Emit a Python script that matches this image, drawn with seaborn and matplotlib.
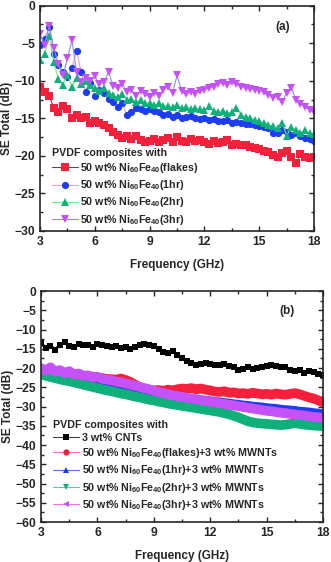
import numpy as np
import pandas as pd
import matplotlib
matplotlib.use('Agg')
import matplotlib.pyplot as plt
from matplotlib.ticker import MultipleLocator
import seaborn as sns

# frequency sweep (GHz)
freq = [3.0, 3.25, 3.5, 3.75, 4.0, 4.25, 4.5, 4.75, 5.0, 5.25, 5.5, 5.75,
        6.0, 6.25, 6.5, 6.75, 7.0, 7.25, 7.5, 7.75, 8.0, 8.25, 8.5, 8.75,
        9.0, 9.25, 9.5, 9.75, 10.0, 10.25, 10.5, 10.75, 11.0, 11.25, 11.5, 11.75,
        12.0, 12.25, 12.5, 12.75, 13.0, 13.25, 13.5, 13.75, 14.0, 14.25, 14.5, 14.75,
        15.0, 15.25, 15.5, 15.75, 16.0, 16.25, 16.5, 16.75, 17.0, 17.25, 17.5, 17.75, 18.0]

# (a) 50 wt% NiFe only
a_flakes = [-10.8, -11.5, -12.0, -13.6, -14.2, -13.4, -13.8, -14.9, -14.6, -15.0, -14.8, -15.6,
            -15.3, -15.6, -15.9, -16.3, -16.8, -17.2, -17.6, -17.3, -17.8, -17.4, -17.9, -18.2,
            -18.0, -17.7, -18.1, -17.9, -17.6, -18.2, -17.5, -18.0, -18.1, -17.8, -18.0, -17.9,
            -18.1, -18.4, -18.0, -18.3, -18.2, -17.9, -18.5, -18.4, -18.6, -18.5, -18.8, -18.9,
            -19.1, -19.3, -19.5, -19.9, -20.1, -19.6, -19.4, -20.2, -21.0, -19.8, -20.2, -20.3, -20.2]
a_1hr = [-5.2, -4.5, -2.8, -6.5, -7.9, -8.8, -9.5, -8.3, -6.0, -8.9, -11.5, -10.3,
         -12.0, -11.2, -11.6, -12.4, -12.8, -13.5, -12.9, -14.6, -14.2, -13.6, -13.8, -14.0,
         -13.8, -14.0, -14.1, -14.5, -14.4, -14.8, -14.6, -14.9, -14.8, -14.7, -15.0, -15.1,
         -15.0, -15.2, -15.1, -15.3, -15.4, -15.2, -15.6, -15.5, -15.6, -15.8, -15.7, -15.9,
         -16.0, -16.1, -16.3, -16.9, -17.0, -16.5, -16.8, -17.2, -17.0, -17.4, -17.6, -17.8, -18.0]
a_2hr = [-7.2, -6.4, -4.0, -7.5, -9.8, -10.6, -9.2, -10.8, -9.6, -10.4, -10.0, -10.6,
         -10.9, -11.3, -11.0, -11.6, -11.9, -12.2, -11.8, -12.5, -12.4, -12.8, -12.6, -13.0,
         -12.9, -13.2, -13.0, -13.4, -13.3, -13.5, -13.2, -13.6, -13.5, -13.7, -13.6, -13.8,
         -13.9, -13.4, -14.0, -14.1, -14.0, -14.3, -14.2, -13.6, -14.6, -14.8, -14.9, -15.2,
         -15.4, -15.6, -15.9, -16.0, -16.3, -15.6, -17.3, -16.2, -16.5, -16.9, -16.6, -17.0, -17.1]
a_3hr = [-3.8, -5.2, -2.7, -5.6, -7.8, -9.3, -7.0, -4.6, -8.9, -10.2, -9.6, -10.0,
         -9.4, -10.5, -10.2, -8.8, -10.7, -11.0, -10.4, -11.5, -11.2, -12.0, -11.4, -11.8,
         -12.2, -11.6, -12.0, -11.2, -10.8, -11.6, -9.3, -11.4, -11.8, -11.5, -11.7, -11.4,
         -11.2, -11.0, -10.8, -10.4, -10.3, -10.6, -10.2, -10.5, -10.8, -11.0, -11.1, -11.2,
         -11.3, -11.5, -11.9, -12.3, -12.1, -12.8, -11.6, -10.9, -12.5, -13.1, -13.5, -13.9, -14.2]

# (b) with 3 wt% MWNTs
b_cnt = [-13.5, -14.8, -14.2, -15.2, -14.0, -13.2, -14.3, -14.6, -13.8, -14.1, -13.9, -14.4,
         -13.7, -13.9, -14.2, -14.5, -14.3, -14.8, -14.6, -15.0, -14.6, -14.0, -13.7, -13.9,
         -14.3, -15.0, -15.8, -16.0, -15.6, -16.7, -17.5, -18.2, -18.8, -19.3, -18.9, -18.6,
         -18.9, -19.1, -19.2, -19.0, -19.4, -19.8, -20.5, -20.2, -19.6, -20.3, -20.1, -19.8,
         -19.4, -19.2, -19.5, -19.7, -19.8, -20.4, -20.8, -20.6, -21.3, -20.7, -21.0, -21.5, -21.8]
b_flakes = [-20.8, -21.0, -21.2, -21.0, -21.5, -21.4, -21.8, -21.7, -22.0, -22.1, -22.3, -22.2,
            -22.4, -22.6, -22.8, -22.9, -23.0, -22.7, -23.1, -23.6, -24.3, -24.9, -25.4, -25.6,
            -25.8, -25.7, -25.9, -25.6, -25.8, -25.5, -25.3, -25.4, -25.2, -25.5, -25.3, -25.6,
            -25.8, -26.1, -26.2, -26.0, -26.4, -26.3, -26.6, -26.5, -26.7, -26.4, -26.6, -26.8,
            -26.7, -26.9, -26.6, -26.8, -26.9, -26.7, -26.5, -26.8, -27.2, -27.6, -27.9, -28.4, -28.9]
b_1hr = [-21.2, -21.5, -21.6, -21.9, -22.1, -22.3, -22.6, -22.8, -23.0, -23.2, -23.4, -23.5,
         -23.7, -23.9, -24.2, -24.4, -24.6, -24.8, -25.1, -25.3, -25.6, -25.8, -26.0, -26.3,
         -26.5, -26.7, -26.9, -27.1, -27.4, -27.5, -27.7, -27.9, -28.0, -28.2, -28.3, -28.5,
         -28.6, -28.8, -28.9, -29.1, -29.2, -29.4, -29.5, -29.7, -29.8, -30.0, -30.1, -30.2,
         -30.4, -30.5, -30.6, -30.8, -30.9, -31.0, -31.1, -31.3, -31.4, -31.5, -31.7, -31.8, -32.0]
b_2hr = [-21.5, -22.0, -22.3, -22.6, -22.9, -23.2, -23.4, -23.7, -24.0, -24.3, -24.6, -24.9,
         -25.2, -25.5, -25.8, -26.0, -26.3, -26.6, -26.8, -27.1, -27.4, -27.6, -27.9, -28.2,
         -28.4, -28.7, -28.9, -29.2, -29.4, -29.6, -29.8, -30.0, -30.2, -30.4, -30.6, -30.8,
         -31.0, -31.2, -31.4, -31.7, -32.0, -32.4, -32.8, -33.3, -33.8, -34.1, -34.3, -34.4,
         -34.5, -34.6, -34.7, -34.8, -34.7, -34.5, -34.3, -34.5, -34.7, -34.8, -34.9, -35.0, -35.1]
b_3hr = [-20.0, -20.6, -19.8, -20.9, -20.5, -21.3, -20.8, -21.6, -21.4, -22.0, -21.9, -22.4,
         -22.3, -22.8, -23.0, -23.2, -23.5, -23.7, -24.0, -24.3, -24.6, -24.9, -25.2, -25.5,
         -25.9, -26.2, -26.5, -26.8, -27.1, -27.3, -27.5, -27.7, -27.9, -28.1, -28.3, -28.5,
         -28.7, -28.9, -29.1, -29.3, -29.5, -29.7, -29.9, -30.1, -30.3, -30.5, -30.7, -30.9,
         -31.1, -31.2, -31.4, -31.6, -31.7, -31.9, -32.0, -32.2, -32.3, -32.5, -32.7, -32.8, -33.0]

NIFE = r'50 wt% Ni$_{60}$Fe$_{40}$'
labels_a = [NIFE + '(flakes)', NIFE + '(1hr)', NIFE + '(2hr)', NIFE + '(3hr)']
labels_b = ['3 wt% CNTs', NIFE + '(flakes)+3 wt% MWNTs', NIFE + '(1hr)+3 wt% MWNTs',
            NIFE + '(2hr)+3 wt% MWNTs', NIFE + '(3hr)+3 wt% MWNTs']

sns.set_style('ticks')
plt.rcParams['font.family'] = ['Liberation Sans', 'DejaVu Sans']
plt.rcParams['font.weight'] = 'bold'
plt.rcParams['axes.labelweight'] = 'bold'
plt.rcParams['mathtext.fontset'] = 'custom'
plt.rcParams['mathtext.rm'] = 'Liberation Sans:bold'
plt.rcParams['mathtext.it'] = 'Liberation Sans:bold'
plt.rcParams['mathtext.bf'] = 'Liberation Sans:bold'
plt.rcParams['font.size'] = 8.5

RED, BLUE, GREEN, VIOLET = '#f4203c', '#1e3cf0', '#10b07c', '#c452f8'
LEG_FS = 7.7

fig = plt.figure(figsize=(3.31, 5.62), dpi=100)
ax1 = fig.add_axes([0.121, 0.589, 0.828, 0.401])
ax2 = fig.add_axes([0.124, 0.071, 0.852, 0.411])

# panel (a)
series_a = [a_flakes, a_1hr, a_2hr, a_3hr]
mcol_a = [RED, BLUE, GREEN, VIOLET]
lcol_a = ['#505050', '#ff9ab0', '#70f070', '#8c8cf0']
mk_a = ['s', 'o', '^', 'v']
for vals, mc, lc, mk, lab in zip(series_a, mcol_a, lcol_a, mk_a, labels_a):
    sns.lineplot(x=freq, y=vals, ax=ax1, sort=False, estimator=None, color=lc, lw=0.8,
                 marker=mk, markersize=5.2, markerfacecolor=mc, markeredgecolor=mc,
                 markeredgewidth=0, label=lab)

# panel (b): thin labelled line with markers, then a solid band on top
series_b = [b_cnt, b_flakes, b_1hr, b_2hr, b_3hr]
mcol_b = ['black', RED, BLUE, GREEN, VIOLET]
lcol_b = ['#404040', '#ff6ec8', '#5c6cf0', '#30e0a0', '#f070f0']
mk_b = ['s', 'o', '^', 'v', '<']
band_w = [2.0, 7.0, 7.0, 7.0, 7.0]
msz_b = [4.8, 4.5, 4.5, 4.5, 4.5]
for vals, mc, lc, mk, lab, bw, ms in zip(series_b, mcol_b, lcol_b, mk_b, labels_b, band_w, msz_b):
    sns.lineplot(x=freq, y=vals, ax=ax2, sort=False, estimator=None, color=lc, lw=0.8,
                 marker=mk, markersize=ms, markerfacecolor=mc, markeredgecolor=mc,
                 markeredgewidth=0, label=lab)
    sns.lineplot(x=freq, y=vals, ax=ax2, sort=False, estimator=None, color=mc, lw=bw,
                 legend=False)

for ax, ylim, tag, tpos, legy in [(ax1, (-30, 0), '(a)', (0.887, 0.905), 0.0),
                                  (ax2, (-60, 0), '(b)', (0.872, 0.913), 0.026)]:
    ax.set_xlim(3, 18)
    ax.set_ylim(*ylim)
    ax.xaxis.set_major_locator(MultipleLocator(3))
    ax.xaxis.set_minor_locator(MultipleLocator(1.5))
    ax.yaxis.set_major_locator(MultipleLocator(5))
    ax.yaxis.set_minor_locator(MultipleLocator(2.5))
    ax.tick_params(which='both', direction='in', top=True, right=True, width=1, labelsize=8.7)
    ax.tick_params(which='major', length=3.5)
    ax.tick_params(which='minor', length=2)
    for sp in ax.spines.values():
        sp.set_linewidth(1.2)
    ax.set_xlabel('Frequency (GHz)', fontsize=8.5, labelpad=8)
    ax.set_ylabel('SE Total (dB)', fontsize=8.5, labelpad=1)
    ax.text(*tpos, tag, transform=ax.transAxes, ha='center', va='center', fontsize=8.5)
    leg = ax.legend(title='PVDF composites with', loc='lower left',
                    bbox_to_anchor=(0.028, legy), frameon=False, fontsize=LEG_FS,
                    title_fontproperties={'weight': 'bold', 'size': LEG_FS},
                    handlelength=2.4, handletextpad=0.25, labelspacing=0.3,
                    borderaxespad=0.0, markerscale=1.0)
    leg._legend_box.align = 'left'

fig.savefig('out.png', dpi=100)
